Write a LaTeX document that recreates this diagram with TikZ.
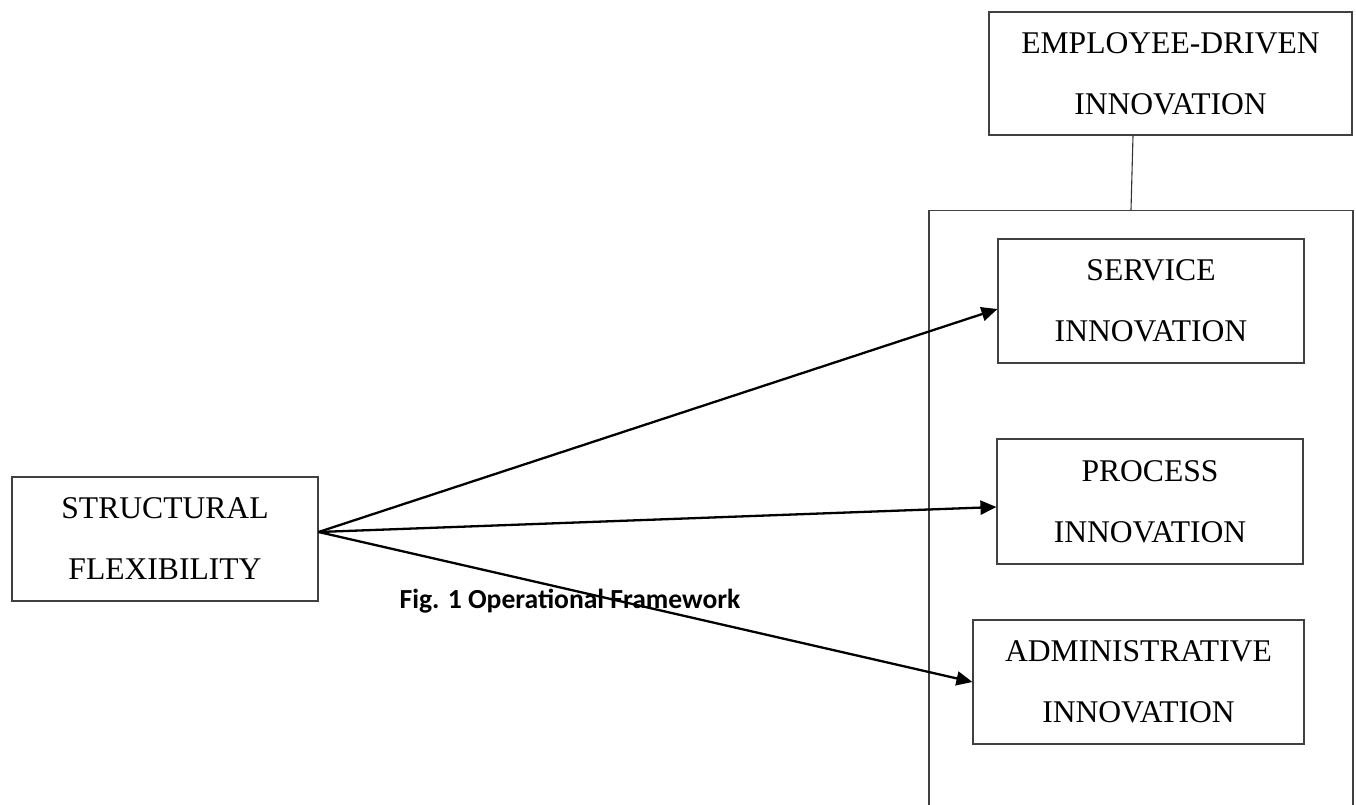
\documentclass[tikz,border=0pt]{standalone}
\usepackage{fontspec}
\setmainfont{Liberation Serif}
\newfontfamily\capfont{Carlito}
\usepackage{xcolor}
\usepackage{tikz}
\usetikzlibrary{arrows.meta, positioning}

\begin{document}
\begin{tikzpicture}[
        x=0.5pt, y=-0.5pt,
        box/.style={rectangle, draw=black!75, line width=0.55pt, inner sep=0pt, align=center,
            font={\fontsize{15.8}{30.5}\selectfont}},
        arrow/.style={line width=1.15pt, -{Triangle[length=8pt, width=7pt]}}
    ]
    \useasboundingbox (0,0) rectangle (1356,804);

    % right-hand group
    \node (frame) [rectangle, draw=black!75, line width=0.55pt, minimum width=212pt, minimum height=320pt, anchor=north] at (1141,210) {};
    \node (edi) [box, minimum width=181.5pt, minimum height=61.5pt] at (1170.5,73.5) {EMPLOYEE-DRIVEN\\INNOVATION};
    \node (service) [box, minimum width=153pt, minimum height=62pt] at (1151,301) {SERVICE\\INNOVATION};
    \node (process) [box, minimum width=153pt, minimum height=62.5pt] at (1150,501.5) {PROCESS\\INNOVATION};
    \node (admin) [box, minimum width=165.5pt, minimum height=62pt] at (1138.5,682) {ADMINISTRATIVE\\INNOVATION};

    % left-hand node
    \node (flex) [box, minimum width=153pt, minimum height=62pt] at (165,539) {STRUCTURAL\\FLEXIBILITY};
    \coordinate (src) at ([yshift=3.5pt]flex.east);

    \node (caption) [font={\capfont\bfseries\fontsize{13.8}{16}\selectfont}] at (570,601) {Fig. 1 Operational Framework};

    \draw [line width=0.55pt, black!80] ([xshift=-18.75pt]edi.south) -- ([xshift=-5pt]frame.north);

    \draw [arrow] (src) -- ([yshift=-4pt]service.west);
    \draw [arrow] (src) -- ([yshift=-2.75pt]process.west);
    \draw [arrow] (src) -- (admin.west);

\end{tikzpicture}
\end{document}
